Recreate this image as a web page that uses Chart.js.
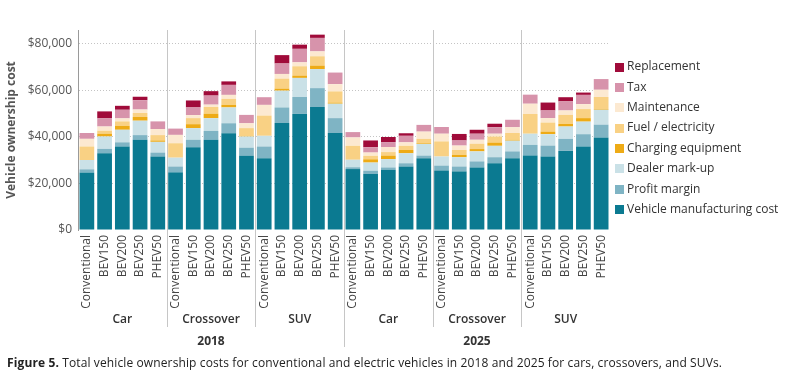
<!DOCTYPE html>
<html>
<head>
<meta charset="utf-8">
<script src="https://cdn.jsdelivr.net/npm/chart.js@4"></script>
<style>
  html, body { margin: 0; padding: 0; background: #fff; }
  #wrap { position: relative; width: 800px; height: 379px; }
  #caption { position: absolute; left: 7px; top: 355px; font: 12px "Open Sans", sans-serif; letter-spacing: 0.12px; color: #222; line-height: 15px; white-space: nowrap; }
  #caption b { font-weight: 700; }
</style>
</head>
<body>
<div id="wrap">
  <canvas id="c" width="800" height="379"></canvas>
  <div id="caption"><b>Figure 5.</b> Total vehicle ownership costs for conventional and electric vehicles in 2018 and 2025 for cars, crossovers, and SUVs.</div>
</div>
<script>
const vehicleTypes = ['Conventional', 'BEV150', 'BEV200', 'BEV250', 'PHEV50'];
const vehicleClasses = ['Car', 'Crossover', 'SUV'];
const years = ['2018', '2025'];
const yTicks = [0, 20000, 40000, 60000, 80000];

// Order: 2018 Car, 2018 Crossover, 2018 SUV, 2025 Car, 2025 Crossover, 2025 SUV (5 vehicle types each)
const manufacturing = [24700,33000,35900,38800,31600, 24800,35600,38800,41600,31900, 30900,46000,49900,52900,41700,
                       26200,24100,25900,27300,30900, 25600,25200,26900,28700,30900, 32000,31600,34000,35900,39800];
const profitMargin  = [1400,1900,1800,2000,1700, 2500,3200,3800,4300,3500, 5000,6700,7300,8100,6400,
                       800,1400,1000,1400,1100, 2100,2100,2600,2600,2900, 4600,4700,5200,5300,5500];
const dealerMarkup  = [4000,5300,5400,6200,4600, 3800,5000,5500,6800,4800, 4600,7200,8200,8200,6200,
                       3200,3500,3600,4300,5000, 3900,4000,4300,4900,4600, 4800,4900,5300,5400,6400];
const charging      = [0,1200,1700,1600,600, 0,1700,1900,1100,300, 0,900,1000,1500,500,
                       0,1400,1500,1400,300, 0,1000,1000,1400,400, 0,1100,1100,1500,300];
const fuel          = [5800,1300,1900,1700,2300, 6200,2600,2900,2600,3300, 8700,4300,4000,4000,4800,
                       6000,1500,1500,1800,1900, 6500,2100,2300,2600,2900, 8500,3900,3900,3900,5200];
const maintenance   = [3300,1800,1300,1500,2600, 3600,1300,1000,1700,2100, 4600,2000,1700,2100,3100,
                       3600,1400,2200,1500,3100, 3300,1900,1700,1200,2500, 4400,1900,1900,2100,3100];
const tax           = [2500,3500,3700,4000,3300, 2700,3300,3900,4300,3600, 3300,4500,5800,5800,5000,
                       2300,2300,2100,2800,2900, 2900,2200,2600,2800,3200, 3900,3300,3900,4000,4600];
const replacement   = [0,3000,1700,1500,0, 0,3000,1900,1500,0, 0,3600,1800,1400,0,
                       0,2900,2200,1100,0, 0,2800,1700,1500,0, 0,3400,1800,1000,0];

const labels = [];
years.forEach(() => vehicleClasses.forEach(() => vehicleTypes.forEach(t => labels.push(t))));

const series = [
  { label: 'Vehicle manufacturing cost', data: manufacturing, color: '#0b7a91' },
  { label: 'Profit margin', data: profitMargin, color: '#7fb4c4' },
  { label: 'Dealer mark-up', data: dealerMarkup, color: '#cae1e7' },
  { label: 'Charging equipment', data: charging, color: '#eeab16' },
  { label: 'Fuel / electricity', data: fuel, color: '#f9d184' },
  { label: 'Maintenance', data: maintenance, color: '#fce9d1' },
  { label: 'Tax', data: tax, color: '#d793ab' },
  { label: 'Replacement', data: replacement, color: '#a00b3a' }
];

const FONT = '"Open Sans", sans-serif';

const decor = {
  id: 'decor',
  afterDraw(chart) {
    const ctx = chart.ctx;
    const x = chart.scales.x;
    const area = chart.chartArea;
    const px = i => x.getPixelForValue(i);
    ctx.save();
    // separators
    ctx.strokeStyle = '#c6c6c6';
    ctx.lineWidth = 1;
    const n = vehicleTypes.length;
    const total = labels.length;
    for (let b = n; b < total; b += n) {
      const sx = Math.round((px(b - 1) + px(b)) / 2) + 0.5;
      const isYear = b % (n * vehicleClasses.length) === 0;
      ctx.beginPath();
      ctx.moveTo(sx, area.top);
      ctx.lineTo(sx, isYear ? 347 : 327);
      ctx.stroke();
    }
    // group labels
    ctx.fillStyle = '#333';
    ctx.textAlign = 'center';
    ctx.textBaseline = 'middle';
    ctx.font = '600 12px ' + FONT;
    let g = 0;
    years.forEach(() => vehicleClasses.forEach(cls => {
      const cx = px(g * n + (n - 1) / 2);
      ctx.fillText(cls, cx, 320);
      g++;
    }));
    ctx.font = '700 12px ' + FONT;
    const perYear = n * vehicleClasses.length;
    years.forEach((yr, k) => {
      const cx = (px(k * perYear) + px(k * perYear + perYear - 1)) / 2;
      ctx.fillText(yr, cx, 342);
    });
    // legend
    ctx.textAlign = 'left';
    ctx.font = '12px ' + FONT;
    const rev = chart.data.datasets.slice().reverse();
    rev.forEach((ds, i) => {
      const cy = 67 + i * 20.35;
      ctx.fillStyle = ds.backgroundColor;
      ctx.fillRect(615, Math.round(cy - 4.5), 9, 9);
      ctx.fillStyle = '#333';
      ctx.fillText(ds.label, 627, cy);
    });
    ctx.restore();
  }
};

new Chart(document.getElementById('c'), {
  type: 'bar',
  data: {
    labels: labels,
    datasets: series.map(s => ({
      label: s.label,
      data: s.data,
      backgroundColor: s.color,
      borderWidth: 0,
      barPercentage: 0.83,
      categoryPercentage: 1.0
    }))
  },
  options: {
    responsive: false,
    animation: false,
    devicePixelRatio: 1,
    layout: { padding: { top: 30, right: 190, bottom: 0, left: 0 } },
    plugins: { legend: { display: false }, tooltip: { enabled: false } },
    scales: {
      x: {
        stacked: true,
        grid: { display: false, drawTicks: false },
        border: { display: false },
        ticks: {
          autoSkip: false, minRotation: 90, maxRotation: 90, padding: 5,
          color: '#444', font: { family: FONT, size: 12 }
        },
        afterFit(scale) { scale.height = 149; }
      },
      y: {
        stacked: true,
        min: 0,
        max: 86000,
        grid: {
          drawTicks: false,
          color: ctx => (ctx.tick && ctx.tick.value === 0) ? 'rgba(0,0,0,0)' : '#c4c4c4',
          lineWidth: 1
        },
        border: { display: true, color: '#9a9a9a', width: 1, dash: [1, 2] },
        ticks: {
          stepSize: 20000,
          padding: 6,
          color: '#555',
          font: { family: FONT, size: 12 },
          callback: v => '$' + v.toLocaleString('en-US')
        },
        afterBuildTicks(scale) {
          scale.ticks = yTicks.map(v => ({ value: v }));
        },
        title: {
          display: true,
          text: 'Vehicle ownership cost',
          color: '#555',
          font: { family: FONT, size: 12, weight: '700' },
          padding: { top: 4, bottom: 0 }
        },
        afterFit(scale) { scale.width = 78; }
      }
    }
  },
  plugins: [decor]
});
</script>
</body>
</html>
